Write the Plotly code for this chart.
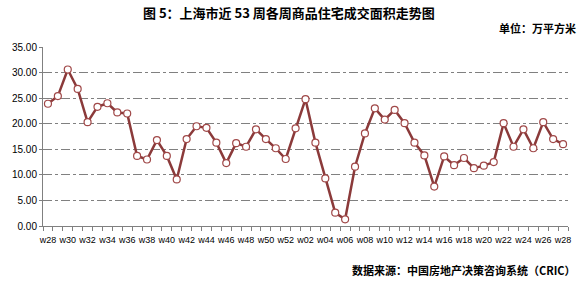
import plotly.graph_objects as go

weeks = [f"w{w}" for w in range(28, 53)] + [f"w{w:02d}" for w in range(1, 29)]
values = [23.9, 25.4, 30.6, 26.8, 20.3, 23.3, 24.0, 22.2, 22.0, 13.7,
          13.0, 16.8, 13.7, 9.1, 17.0, 19.5, 19.2, 16.3, 12.3, 16.2,
          15.5, 18.9, 17.0, 15.2, 13.1, 19.1, 24.8, 16.3, 9.3, 2.6,
          1.3, 11.6, 18.1, 23.0, 20.8, 22.7, 20.1, 16.3, 13.8, 7.7,
          13.6, 11.9, 13.3, 11.3, 11.8, 12.5, 20.1, 15.5, 18.9, 15.2,
          20.3, 17.0, 16.0]
positions = list(range(len(weeks)))
tickpos = positions[::2]
ticktext = weeks[::2]

title = "图 5：上海市近 53 周各周商品住宅成交面积走势图"
unit = "单位：万平方米"
source = "数据来源：中国房地产决策咨询系统（CRIC）"

line_color = "#8B3A3A"
cjk = "Noto Sans CJK SC"

fig = go.Figure(go.Scatter(
    x=positions, y=values, mode="lines+markers",
    line=dict(color=line_color, width=2.5),
    marker=dict(size=7, color="white", line=dict(color="#A04848", width=1.2)),
    hovertext=weeks,
))

fig.update_layout(
    width=584, height=282,
    margin=dict(l=38, r=16, t=47, b=56),
    paper_bgcolor="white", plot_bgcolor="white",
    showlegend=False,
    font=dict(family="Liberation Sans, Arial", size=10, color="black"),
    xaxis=dict(
        tickmode="array", tickvals=tickpos, ticktext=ticktext,
        ticks="", showline=True, linecolor="#808080", linewidth=1,
        showgrid=False, zeroline=False, range=[-0.5, len(weeks) - 0.5],
        tickfont=dict(size=9, color="black"), tickangle=0,
        ticklabelstandoff=5,
        minor=dict(ticks="outside", tick0=-0.5, dtick=1, ticklen=4,
                   tickcolor="#808080", showgrid=False),
    ),
    yaxis=dict(
        range=[0, 35], dtick=5, tickformat=".2f",
        showline=True, linecolor="#808080", linewidth=1,
        ticks="outside", ticklen=3, tickcolor="#808080",
        showgrid=True, gridcolor="#808080", gridwidth=1, griddash="dashdot",
        zeroline=False, tickfont=dict(size=10, color="black"),
    ),
)

H = 282 - 47 - 56
W = 584 - 38 - 16
def py(pix):
    return (282 - 56 - pix) / H
def px(pix):
    return (pix - 38) / W

fig.add_annotation(text=f"<b>{title}</b>", x=px(286), y=py(12), xref="paper", yref="paper",
                   showarrow=False, xanchor="center", yanchor="middle",
                   font=dict(family=cjk, size=13, color="black"))
fig.add_annotation(text=f"<b>{unit}</b>", x=px(578), y=py(28), xref="paper", yref="paper",
                   showarrow=False, xanchor="right", yanchor="middle",
                   font=dict(family=cjk, size=11, color="black"))
fig.add_annotation(text=f"<b>{source}</b>", x=px(578), y=py(270), xref="paper", yref="paper",
                   showarrow=False, xanchor="right", yanchor="middle",
                   font=dict(family=cjk, size=11, color="black"))

fig.write_html("out.html")
